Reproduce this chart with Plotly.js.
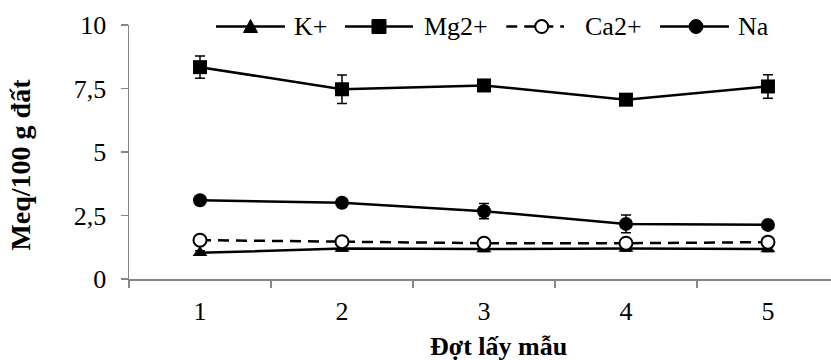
<!DOCTYPE html>
<html>
<head>
<meta charset="utf-8">
<script src="https://cdn.plot.ly/plotly-3.0.1.min.js"></script>
<style>html,body{margin:0;padding:0;background:#fff;}#chart{width:831px;height:360px;}</style>
</head>
<body>
<div id="chart"></div>
<script>
// Data
const categories = ["1", "2", "3", "4", "5"];
const kValues  = [1.03, 1.20, 1.18, 1.20, 1.18];
const kErr     = [0.08, 0.10, 0.10, 0.10, 0.10];
const mgValues = [8.34, 7.47, 7.62, 7.06, 7.58];
const mgErr    = [0.44, 0.56, 0.12, 0.10, 0.46];
const caValues = [1.53, 1.47, 1.41, 1.41, 1.45];
const caErr    = [0.10, 0.10, 0.08, 0.10, 0.12];
const naValues = [3.10, 3.00, 2.67, 2.17, 2.13];
const naErr    = [0.10, 0.15, 0.30, 0.35, 0.15];
const seriesNames = ["K+", "Mg2+", "Ca2+", "Na"];
const yTickVals = [0, 2.5, 5, 7.5, 10];
const yTickText = ["0", "2,5", "5", "7,5", "10"];

const FONT = "Liberation Serif";
const errStyle = (arr) => ({type: "data", array: arr, visible: true, color: "#000", thickness: 1.5, width: 5});

const traces = [
  {x: categories, y: kValues, error_y: errStyle(kErr), name: seriesNames[0], mode: "lines+markers",
   line: {color: "#000", width: 2.5}, marker: {symbol: "triangle-up", size: 13, color: "#000"}},
  {x: categories, y: mgValues, error_y: errStyle(mgErr), name: seriesNames[1], mode: "lines+markers",
   line: {color: "#000", width: 2.5}, marker: {symbol: "square", size: 14, color: "#000"}},
  {x: categories, y: caValues, error_y: errStyle(caErr), name: seriesNames[2], mode: "lines+markers",
   line: {color: "#000", width: 2.5, dash: "11px,7px"}, marker: {symbol: "circle", size: 13, color: "#fff", line: {color: "#000", width: 2}}},
  {x: categories, y: naValues, error_y: errStyle(naErr), name: seriesNames[3], mode: "lines+markers",
   line: {color: "#000", width: 2.5}, marker: {symbol: "circle", size: 14, color: "#000"}}
];

// Custom legend (layout decoration)
const LY = 0.994;
const legendItems = [
  {x0: 0.1239, x1: 0.2222, m: 0.1731, t: 0.2322, sym: "tri", dash: "solid"},
  {x0: 0.3077, x1: 0.4046, m: 0.3561, t: 0.4174, sym: "sq", dash: "solid"},
  {x0: 0.5374, x1: 0.6197, m: 0.5879, t: 0.6467, sym: "open", dash: "11px,7px"},
  {x0: 0.7564, x1: 0.8547, m: 0.8077, t: 0.8647, sym: "dot", dash: "solid"}
];
const shapes = [];
const annotations = [];
legendItems.forEach((it, i) => {
  shapes.push({type: "line", xref: "paper", yref: "paper", x0: it.x0, x1: it.x1, y0: LY, y1: LY,
    line: {color: "#000", width: 2.5, dash: it.dash}});
  const base = {xref: "paper", yref: "paper", xsizemode: "pixel", ysizemode: "pixel", xanchor: it.m, yanchor: LY};
  if (it.sym === "tri") {
    shapes.push(Object.assign({type: "path", path: "M-7,-6 L7,-6 L0,7 Z", fillcolor: "#000", line: {color: "#000", width: 1}}, base));
  } else if (it.sym === "sq") {
    shapes.push(Object.assign({type: "rect", x0: -7, x1: 7, y0: -7, y1: 7, fillcolor: "#000", line: {color: "#000", width: 1}}, base));
  } else if (it.sym === "open") {
    shapes.push(Object.assign({type: "circle", x0: -6.5, x1: 6.5, y0: -6.5, y1: 6.5, fillcolor: "#fff", line: {color: "#000", width: 2}}, base));
  } else {
    shapes.push(Object.assign({type: "circle", x0: -7, x1: 7, y0: -7, y1: 7, fillcolor: "#000", line: {color: "#000", width: 1}}, base));
  }
  annotations.push({xref: "paper", yref: "paper", x: it.t, y: LY, xanchor: "left", yanchor: "middle",
    text: seriesNames[i], showarrow: false, font: {family: FONT, size: 26, color: "#000"}});
});

annotations.push({xref: "paper", yref: "paper", x: 0.527, y: -0.265, xanchor: "center", yanchor: "middle",
  text: "<b>Đợt lấy mẫu</b>", showarrow: false, font: {family: FONT, size: 26, color: "#000"}});
annotations.push({xref: "paper", yref: "paper", x: -0.154, y: 0.45, xanchor: "center", yanchor: "middle", textangle: -90,
  text: "<b>Meq/100 g đất</b>", showarrow: false, font: {family: FONT, size: 28, color: "#000"}});

const layout = {
  width: 831, height: 360,
  margin: {l: 129, r: 0, t: 24.5, b: 81, pad: 0},
  paper_bgcolor: "#fff", plot_bgcolor: "#fff",
  showlegend: false,
  font: {family: FONT, size: 26, color: "#000"},
  xaxis: {type: "category", range: [-0.5, 4.444], tickson: "boundaries", ticks: "outside", ticklen: 7,
    tickcolor: "#868686", tickwidth: 1.5, showline: true, linecolor: "#868686", linewidth: 1.5,
    showgrid: false, zeroline: false, tickfont: {family: FONT, size: 26, color: "#000"}, ticklabelstandoff: 8},
  yaxis: {range: [0, 10], tickvals: yTickVals, ticktext: yTickText, ticks: "outside", ticklen: 7,
    tickcolor: "#868686", tickwidth: 1.5, showline: true, linecolor: "#868686", linewidth: 1.5,
    showgrid: false, zeroline: false, tickfont: {family: FONT, size: 26, color: "#000"}, ticklabelstandoff: 9},
  shapes: shapes,
  annotations: annotations
};

Plotly.newPlot("chart", traces, layout, {displayModeBar: false, staticPlot: true});
</script>
</body>
</html>
